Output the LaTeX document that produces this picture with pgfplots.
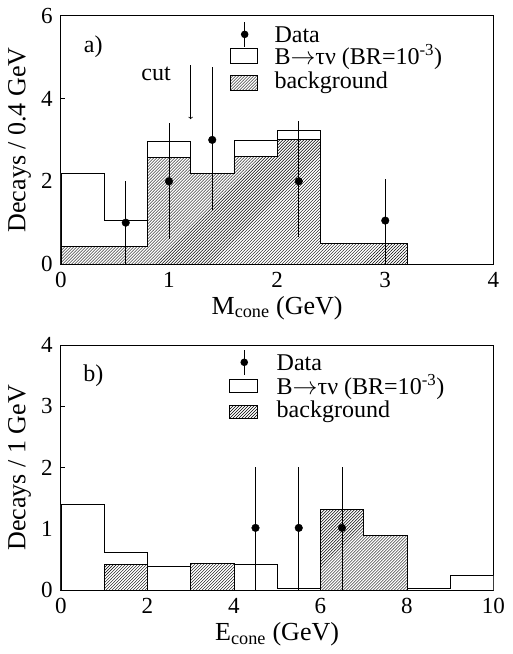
\documentclass[border=0pt]{standalone}
\usepackage{pgfplots}
\pgfplotsset{compat=1.18}
\usetikzlibrary{patterns}
\usepackage{fontspec}
\setmainfont{Liberation Serif}
\begin{document}
\fontsize{24}{28}\selectfont
\begin{tikzpicture}
\pgfplotsset{myax/.style={scale only axis, width=432pt, height=248pt,
  tick align=inside, axis line style={line width=0.8pt}, tick style={black,line width=0.7pt},
  /pgf/number format/assume math mode=true, tick label style={font=\fontsize{23}{27}\selectfont},
  label style={font=\fontsize{26}{30}\selectfont}, ylabel style={yshift=-6pt}, xlabel style={yshift=8pt},
  ytick pos=left, xtick pos=left}}
\begin{axis}[myax, at={(0pt,326pt)}, xmin=0,xmax=4,ymin=0,ymax=6, xtick={0,1,2,3,4}, ytick={0,2,4,6},
  xlabel={M$_{\mathrm{cone}}$ (GeV)}, ylabel={Decays / 0.4 GeV}]
\addplot[const plot, fill=white, draw=black, line width=0.7pt] coordinates {(0,2.2)(0.4,1.05)(0.8,2.97)(1.2,2.18)(1.6,3.0)(2.0,3.22)(2.4,0.5)(2.8,0.5)(3.2,0.5)} \closedcycle;
\addplot[const plot, pattern=north east lines, draw=black, line width=0.7pt] coordinates {(0,0.43)(0.4,0.43)(0.8,2.58)(1.2,2.18)(1.6,2.6)(2.0,3.02)(2.4,0.5)(2.8,0.5)(3.2,0.5)} \closedcycle;
\addplot[only marks, mark=*, mark size=3.8pt, black, error bars/.cd, y dir=both, y explicit, error mark=none, error bar style={line width=0.7pt}]
 coordinates {(0.6,1) -= (0,1) += (0,1) (1.0,2) -= (0,1.4) += (0,1.4) (1.4,3) -= (0,1.7) += (0,1.75) (2.2,2) -= (0,1.35) += (0,1.45) (3.0,1.05) -= (0,1.05) += (0,1.0)};
\draw[->, line width=0.7pt] (axis cs:1.2,4.8) -- (axis cs:1.2,3.5);
\node at (axis cs:0.88,4.6) {cut};
\node at (axis cs:0.3,5.25) {a)};
\fill (axis cs:1.70,5.55) circle (3.8pt); \draw[line width=0.7pt] (axis cs:1.70,5.25) -- (axis cs:1.70,5.85);
\draw[line width=0.7pt] (axis cs:1.565,4.85) rectangle (axis cs:1.82,5.2);
\draw[line width=0.7pt, pattern=north east lines] (axis cs:1.565,4.2) rectangle (axis cs:1.82,4.55);
\node[anchor=west] at (axis cs:1.9,5.55) {Data};
\node[anchor=west] at (axis cs:1.9,5.0) {B$\rightarrow$τν (BR=10\textsuperscript{-3})};
\node[anchor=west] at (axis cs:1.9,4.38) {background};
\end{axis}
\begin{axis}[myax, at={(0pt,0pt)}, height=245pt, xmin=0,xmax=10,ymin=0,ymax=4, xtick={0,2,4,6,8,10}, ytick={0,1,2,3,4},
  xlabel={E$_{\mathrm{cone}}$ (GeV)}, ylabel={Decays / 1 GeV}]
\addplot[const plot, fill=white, draw=black, line width=0.7pt] coordinates {(0,1.4)(1,0.62)(2,0.4)(3,0.44)(4,0.42)(5,0.03)(6,1.32)(7,0.9)(8,0.03)(9,0.24)(10,0.24)} \closedcycle;
\addplot[const plot, pattern=north east lines, draw=black, line width=0.7pt] coordinates {(1,0.42)(2,0.42)} \closedcycle;
\addplot[const plot, pattern=north east lines, draw=black, line width=0.7pt] coordinates {(3,0.44)(4,0.44)} \closedcycle;
\addplot[const plot, pattern=north east lines, draw=black, line width=0.7pt] coordinates {(6,1.32)(7,0.9)(8,0.9)} \closedcycle;
\addplot[only marks, mark=*, mark size=3.8pt, black, error bars/.cd, y dir=both, y explicit, error mark=none, error bar style={line width=0.7pt}]
 coordinates {(4.5,1.02) -= (0,1.02) += (0,1.0) (5.5,1.02) -= (0,1.02) += (0,1.0) (6.5,1.02) -= (0,1.02) += (0,1.0)};
\node at (axis cs:0.75,3.5) {b)};
\fill (axis cs:4.24,3.72) circle (3.8pt); \draw[line width=0.7pt] (axis cs:4.24,3.52) -- (axis cs:4.24,3.92);
\draw[line width=0.7pt] (axis cs:3.9,3.23) rectangle (axis cs:4.55,3.45);
\draw[line width=0.7pt, pattern=north east lines] (axis cs:3.9,2.8) rectangle (axis cs:4.55,3.02);
\node[anchor=west] at (axis cs:4.8,3.72) {Data};
\node[anchor=west] at (axis cs:4.8,3.32) {B$\rightarrow$τν (BR=10\textsuperscript{-3})};
\node[anchor=west] at (axis cs:4.8,2.91) {background};
\end{axis}
\end{tikzpicture}
\end{document}
